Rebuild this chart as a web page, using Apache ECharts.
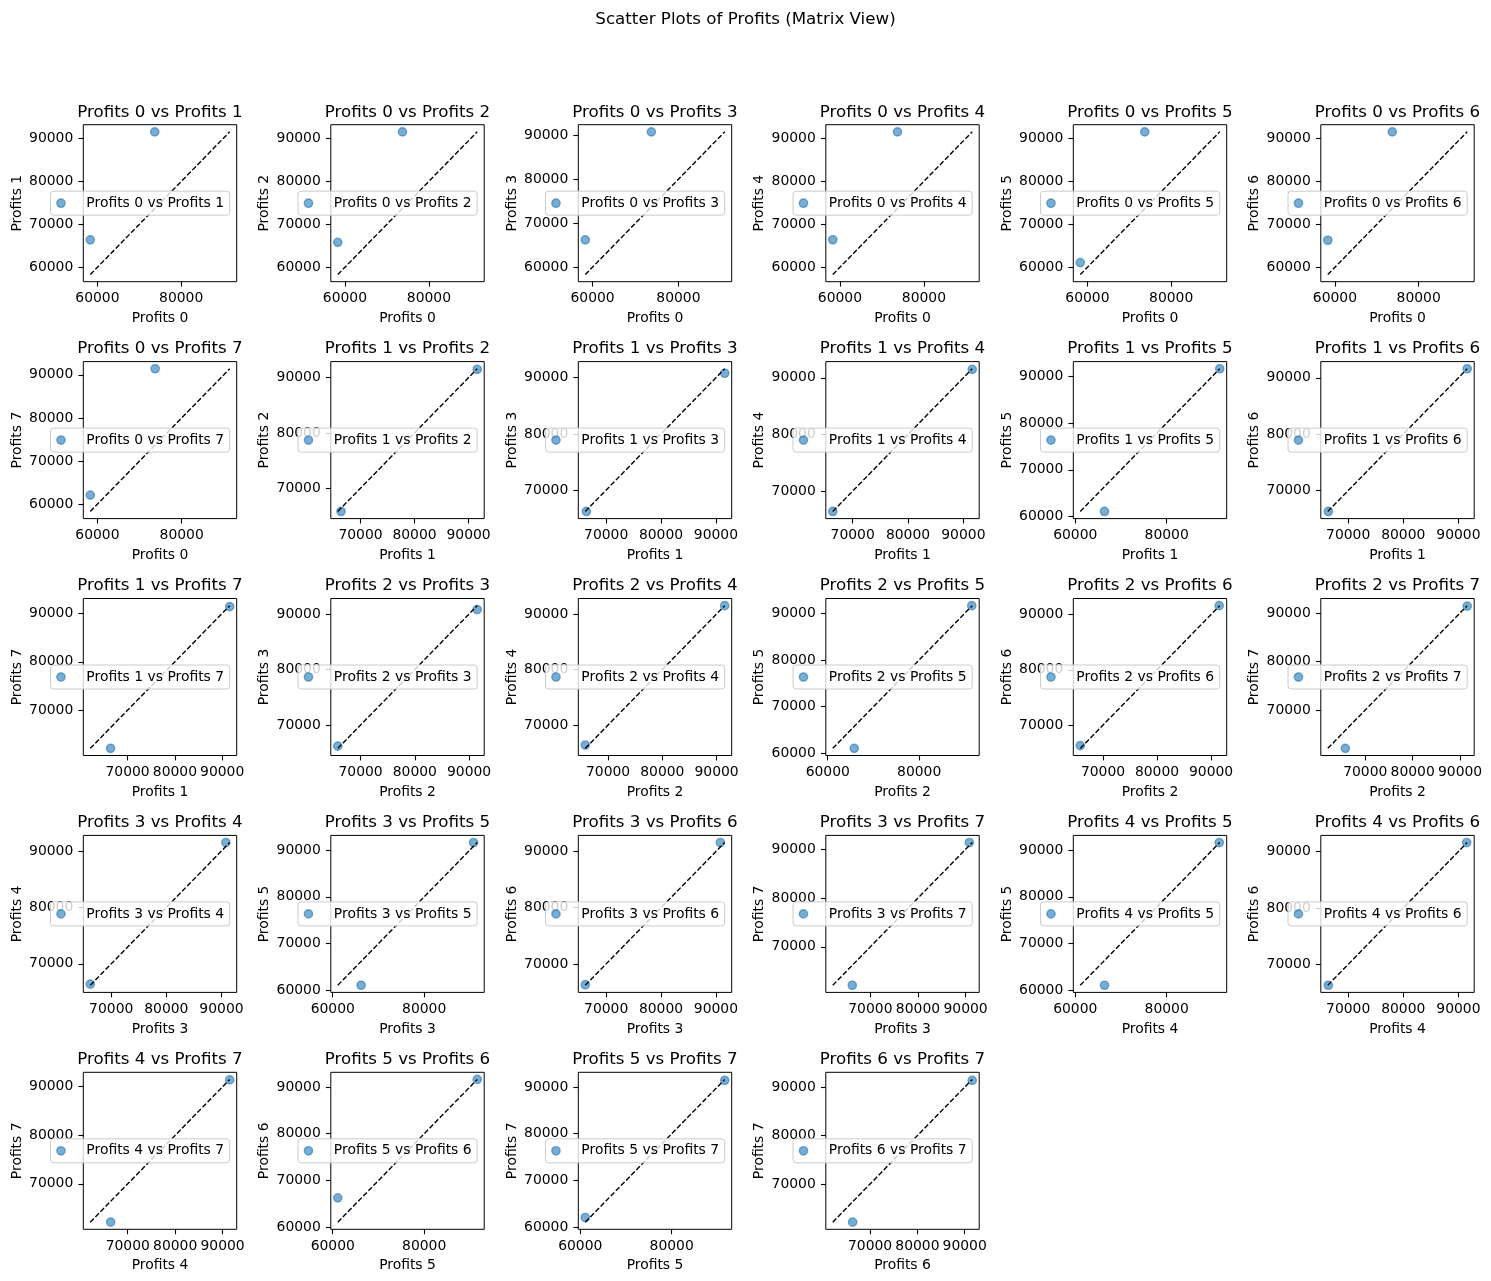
<!DOCTYPE html>
<html>
<head>
<meta charset="utf-8">
<script src="https://cdn.jsdelivr.net/npm/echarts@6/dist/echarts.min.js"></script>
<style>
html,body{margin:0;padding:0;background:#ffffff;}
#chart{width:1491px;height:1281px;}
</style>
</head>
<body>
<div id="chart"></div>
<script>
// ---- data ----
const VARIABLES = ['Profits 0','Profits 1','Profits 2','Profits 3','Profits 4','Profits 5','Profits 6','Profits 7'];
const LOW_VALUES  = [58300, 66400, 65800, 66200, 66400, 61100, 66300, 62100];
const HIGH_VALUES = [73700, 91600, 91500, 90800, 91500, 91600, 91600, 91400];
const SUPTITLE = 'Scatter Plots of Profits (Matrix View)';

// tick label sets seen on the axes
const TICKS_WIDE = [60000, 80000];
const TICKS_FULL = [60000, 70000, 80000, 90000];
const TICKS_NARROW = [70000, 80000, 90000];
// per subplot (pair order 0v1..0v7, 1v2..1v7, ...): W = wide, F = full, N = narrow
const X_TICK_KEYS = ['W','W','W','W','W','W','W', 'N','N','N','W','N','N', 'N','N','W','N','N', 'N','W','N','N', 'W','N','N', 'W','W', 'N'];
const Y_TICK_KEYS = ['F','F','F','F','F','F','F', 'N','N','N','F','N','N', 'N','N','F','N','N', 'N','F','N','N', 'F','N','N', 'F','F', 'N'];
const TICK_SETS = {W: TICKS_WIDE, F: TICKS_FULL, N: TICKS_NARROW};

// ---- layout / style ----
const W = 1491, H = 1281;
const GRID_LEFT0 = 83.3, GRID_DX = 247.5, GRID_W = 153.4;
const GRID_TOP0 = 124.7, GRID_DY = 236.9, GRID_H = 157;
const FONT = 'DejaVu Sans';
const BLUE = '#1f77b4';

const pairs = [];
for (let i = 0; i < VARIABLES.length; i++)
  for (let j = i + 1; j < VARIABLES.length; j++) pairs.push([i, j]);

const grid = [], xAxis = [], yAxis = [], series = [], legend = [], title = [];

title.push({
  text: SUPTITLE, left: W / 2, top: 19.5, textAlign: 'center', textVerticalAlign: 'middle', padding: 0,
  textStyle: {fontFamily: FONT, fontSize: 16.7, fontWeight: 'normal', color: '#000'}
});

const tickStyle = {show: true, length: 4.9, lineStyle: {color: '#000', width: 1.1}};
const labelStyle = {show: true, margin: 10, fontFamily: FONT, fontSize: 13.9, color: '#000', formatter: v => String(v)};
const nameStyle = {fontFamily: FONT, fontSize: 13.9, color: '#000'};
const markerStyle = {color: BLUE, opacity: 0.6, borderColor: BLUE, borderWidth: 1.39};

pairs.forEach(([i, j], k) => {
  const r = Math.floor(k / 6), c = k % 6;
  const left = GRID_LEFT0 + c * GRID_DX;
  const top = GRID_TOP0 + r * GRID_DY;
  const lo = Math.min(LOW_VALUES[i], LOW_VALUES[j]);
  const hi = Math.max(HIGH_VALUES[i], HIGH_VALUES[j]);
  const pad = 0.05 * (hi - lo);
  const name = VARIABLES[i] + ' vs ' + VARIABLES[j];
  const xt = TICK_SETS[X_TICK_KEYS[k]];
  const yt = TICK_SETS[Y_TICK_KEYS[k]];

  grid.push({
    left: left, top: top, width: GRID_W, height: GRID_H,
    show: true, borderColor: '#000', borderWidth: 1, backgroundColor: 'transparent',
    containLabel: false, outerBoundsMode: 'none'
  });

  xAxis.push({
    type: 'value', gridIndex: k, min: lo - pad, max: hi + pad,
    name: VARIABLES[i], nameLocation: 'middle', nameGap: 29.5, nameTextStyle: nameStyle,
    axisLine: {show: false}, splitLine: {show: false},
    axisTick: Object.assign({customValues: xt}, tickStyle),
    axisLabel: Object.assign({customValues: xt}, labelStyle)
  });
  yAxis.push({
    type: 'value', gridIndex: k, min: lo - pad, max: hi + pad,
    name: VARIABLES[j], nameLocation: 'middle', nameGap: 59, nameTextStyle: nameStyle,
    axisLine: {show: false}, splitLine: {show: false},
    axisTick: Object.assign({customValues: yt}, tickStyle),
    axisLabel: Object.assign({customValues: yt}, labelStyle)
  });

  series.push({
    type: 'scatter', name: name, xAxisIndex: k, yAxisIndex: k,
    data: [[LOW_VALUES[i], LOW_VALUES[j]], [HIGH_VALUES[i], HIGH_VALUES[j]]],
    symbolSize: 8.3, itemStyle: markerStyle, silent: true, z: 2
  });
  series.push({
    type: 'line', name: name + ' (y = x)', xAxisIndex: k, yAxisIndex: k,
    data: [[lo, lo], [hi, hi]], showSymbol: false, symbol: 'none',
    lineStyle: {color: '#000', width: 1.4, type: [5.1, 2.2]}, silent: true, z: 3
  });

  legend.push({
    data: [{name: name, icon: 'circle', itemStyle: markerStyle}],
    orient: 'horizontal', right: W - (left + GRID_W - 7), top: top + GRID_H / 2 - 12,
    backgroundColor: 'rgba(255,255,255,0.8)', borderColor: '#cccccc', borderWidth: 1, borderRadius: 3,
    padding: [5, 5.6, 5, 5.6], itemWidth: 28, itemHeight: 8.3, itemGap: 0, selectedMode: false,
    textStyle: {fontFamily: FONT, fontSize: 13.9, color: '#000', lineHeight: 14, padding: [0, 0, 0, 6.4]}
  });

  title.push({
    text: name, left: left + GRID_W / 2, top: top - 12.5, textAlign: 'center', textVerticalAlign: 'middle', padding: 0,
    textStyle: {fontFamily: FONT, fontSize: 16.7, fontWeight: 'normal', color: '#000'}
  });
});

const chart = echarts.init(document.getElementById('chart'), null, {renderer: 'canvas', width: W, height: H});
chart.setOption({
  backgroundColor: '#ffffff',
  animation: false,
  title: title,
  legend: legend,
  grid: grid,
  xAxis: xAxis,
  yAxis: yAxis,
  series: series
});
</script>
</body>
</html>
